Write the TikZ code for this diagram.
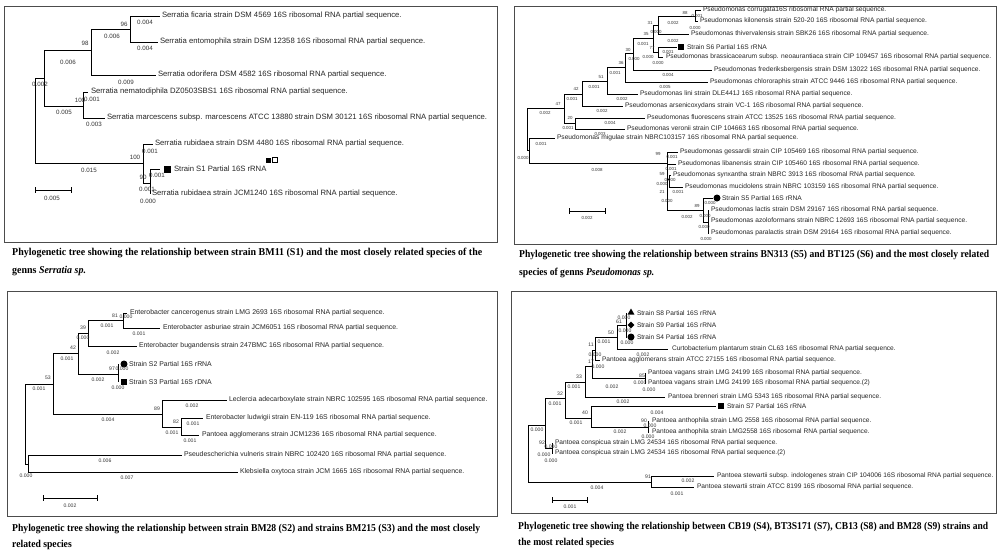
\documentclass[tikz,border=0pt]{standalone}
\usepackage{fontspec}
\setmainfont{Liberation Sans}
\newfontfamily\capfam{Liberation Serif}
\usepackage{graphicx}
\usetikzlibrary{shapes.geometric}
\newlength{\capw}
\newcounter{lbc}
\newcommand{\fs}[1]{\fontsize{#1}{#1}\selectfont}
\newcommand{\lb}[3]{\stepcounter{lbc}\node[blabel] (lab\arabic{lbc}) at (#1,#2) {#3};}
\newcommand{\kids}[2]{\foreach \k in {#2}{\draw[branch] (#1) |- (\k);}}
\newcommand{\captxt}[1]{\capfam\bfseries\fontsize{10.5}{12}\selectfont #1}
\newcommand{\capscaled}[3]{\settowidth{\capw}{\captxt{#2}}\pgfmathsetmacro{\capf}{#1/\capw}\scalebox{\capf}[1]{\captxt{#3}}}
\newcommand{\mkcap}[7]{%
  \node[anchor=base west,inner sep=0] (#1a) at (#2,#3) {\capscaled{#5}{#6}{#6}};
  \node[anchor=base west,inner sep=0] (#1b) at (#2,#4) {\capscaled{#5}{#6}{#7}};
}
\newcommand{\sbar}[4]{% name x1 x2 y
  \coordinate (#1l) at (#2,#4); \coordinate (#1r) at (#3,#4);
  \draw[branch] (#1l) -- (#1r);
  \draw[branch] ([yshift=3pt]#1l) -- ([yshift=-3pt]#1l);
  \draw[branch] ([yshift=3pt]#1r) -- ([yshift=-3pt]#1r);
}
\tikzset{
  branch/.style={draw=black,line width=0.85pt},
  boxframe/.style={draw=black!70,line width=0.9pt},
  leaftext/.style={anchor=west,inner sep=0pt,outer sep=0pt,text=black!85},
  blabel/.style={inner sep=0pt,text=black!80},
  msq/.style={fill=black,draw=none,rectangle,minimum size=6.5pt,inner sep=0pt},
  mdot/.style={fill=black,draw=none,circle,minimum size=7pt,inner sep=0pt},
  mtri/.style={fill=black,draw=none,regular polygon,regular polygon sides=3,minimum size=8pt,inner sep=0pt},
  mdia/.style={fill=black,draw=none,diamond,minimum size=7pt,inner sep=0pt},
}
\begin{document}
\begin{tikzpicture}[x=1pt,y=-1pt]
\fill[white] (0,0) rectangle (1000,550);
\useasboundingbox (0,0) rectangle (1000,550);

% ================= frames =================
\draw[boxframe] (4,6) rectangle (497,242);
\draw[boxframe] (514,6) rectangle (996,244);
\draw[boxframe] (7,291) rectangle (497,516);
\draw[boxframe] (511,291) rectangle (996,513);

% ================= TL : Serratia =================
\begin{scope}[leaftext/.append style={font=\fs{7.7}},blabel/.append style={font=\fs{6.2}}]
\coordinate (tlR) at (35,120);
\coordinate (tlA) at (44,78);
\coordinate (tlB) at (91,50);
\coordinate (tlC) at (130,29);
\coordinate (tlD) at (83,106);
\coordinate (tlE) at (143,163);
\coordinate (tlF) at (150,183);
\coordinate (tl1) at (160,16);
\coordinate (tl2) at (158,42);
\coordinate (tl3) at (156,75);
\coordinate (tl4) at (88,92);
\coordinate (tl5) at (105,118);
\coordinate (tl6) at (153,144);
\coordinate (tl7) at (160,169);
\coordinate (tl8) at (150,194);
\kids{tlR}{tlA,tlE}
\kids{tlA}{tlB,tlD}
\kids{tlB}{tlC,tl3}
\kids{tlC}{tl1,tl2}
\kids{tlD}{tl4,tl5}
\kids{tlE}{tl6,tlF}
\kids{tlF}{tl7,tl8}
\node[leaftext] (tl1t) at (162,16) {Serratia ficaria strain DSM 4569 16S ribosomal RNA partial sequence.};
\node[leaftext] (tl2t) at (160,42) {Serratia entomophila strain DSM 12358 16S ribosomal RNA partial sequence.};
\node[leaftext] (tl3t) at (158,75) {Serratia odorifera DSM 4582 16S ribosomal RNA partial sequence.};
\node[leaftext] (tl4t) at (91,92) {Serratia nematodiphila DZ0503SBS1 16S ribosomal RNA partial sequence.};
\node[leaftext] (tl5t) at (107,118) {Serratia marcescens subsp. marcescens ATCC 13880 strain DSM 30121 16S ribosomal RNA partial sequence.};
\node[leaftext] (tl6t) at (155,144) {Serratia rubidaea strain DSM 4480 16S ribosomal RNA partial sequence.};
\node[msq,minimum size=7pt] (tl7m) at (167,169) {};
\node[leaftext] (tl7t) at (174,169) {Strain S1 Partial 16S rRNA};
\node[leaftext] (tl8t) at (152,194) {Serratia rubidaea strain JCM1240 16S ribosomal RNA partial sequence.};
\node[msq,minimum size=5pt] (tlq1) at (268,160) {};
\node[draw=black,line width=0.6pt,rectangle,minimum size=4.5pt,inner sep=0pt] (tlq2) at (275,160) {};
\lb{124}{24}{96}
\lb{112}{36}{0.006}
\lb{145}{22}{0.004}
\lb{145}{48}{0.004}
\lb{85}{43}{98}
\lb{68}{62}{0.006}
\lb{126}{82}{0.009}
\lb{40}{84}{0.002}
\lb{80}{100}{100}
\lb{92}{99}{0.001}
\lb{64}{112}{0.005}
\lb{94}{124}{0.003}
\lb{89}{170}{0.015}
\lb{135}{157}{100}
\lb{150}{151}{0.001}
\lb{143}{177}{90}
\lb{157}{175}{0.001}
\lb{147}{189}{0.001}
\lb{148}{201}{0.000}
\sbar{tlsb}{35}{71}{190}
\lb{52}{198}{0.005}
\end{scope}

% ================= TR : Pseudomonas =================
\begin{scope}[leaftext/.append style={font=\fs{6.65}},blabel/.append style={font=\fs{4.4}}]
\coordinate (trR) at (527,129);
\coordinate (trN47) at (564,108);
\coordinate (trN42) at (582,94);
\coordinate (trN51) at (607,81);
\coordinate (trN36) at (625,67);
\coordinate (trN30) at (633,53);
\coordinate (trN35) at (653,38);
\coordinate (trN31) at (658,25);
\coordinate (trN88) at (695,16);
\coordinate (trN77) at (658,52);
\coordinate (trN20) at (575,123.5);
\coordinate (trX) at (529,150.5);
\coordinate (trG) at (667,163);
\coordinate (trN59) at (669,179);
\coordinate (trN89) at (703,210);
\coordinate (trNL) at (708,222);
\coordinate (tr1) at (701,10);
\coordinate (tr2) at (698,21);
\coordinate (tr3) at (689,34);
\coordinate (tr4) at (677,47);
\coordinate (tr5) at (663,57);
\coordinate (tr6) at (712,70);
\coordinate (tr7) at (708,82);
\coordinate (tr8) at (638,94);
\coordinate (tr9) at (623,106);
\coordinate (tr10) at (645,118);
\coordinate (tr11) at (625,129);
\coordinate (tr12) at (555,138);
\coordinate (tr13) at (678,152);
\coordinate (tr14) at (676,164);
\coordinate (tr15) at (671,175);
\coordinate (tr16) at (683,187);
\coordinate (tr17) at (713,198);
\coordinate (tr18) at (709,210);
\coordinate (tr19) at (709,221);
\coordinate (tr20) at (709,233);
\kids{trR}{trN47,trX}
\kids{trN47}{trN42,trN20}
\kids{trN42}{trN51,tr9}
\kids{trN51}{trN36,tr8}
\kids{trN36}{trN30,tr7}
\kids{trN30}{trN35,tr6}
\kids{trN35}{trN31,trN77}
\kids{trN31}{trN88,tr3}
\kids{trN88}{tr1,tr2}
\kids{trN77}{tr4,tr5}
\kids{trN20}{tr10,tr11}
\kids{trX}{tr12,trG}
\kids{trG}{tr13,tr14,trN59,trN89}
\kids{trN59}{tr15,tr16}
\kids{trN89}{tr17,trNL}
\kids{trNL}{tr18,tr19,tr20}
\node[leaftext] (tr1t) at (703,10) {Pseudomonas corrugata16S ribosomal RNA partial sequence.};
\node[leaftext] (tr2t) at (700,21) {Pseudomonas kilonensis strain 520-20 16S ribosomal RNA partial sequence.};
\node[leaftext] (tr3t) at (691,34) {Pseudomonas thivervalensis strain SBK26 16S ribosomal RNA partial sequence.};
\node[msq,minimum size=6pt] (tr4m) at (681,47) {};
\node[leaftext] (tr4t) at (687,47) {Strain S6 Partial 16S rRNA};
\node[leaftext] (tr5t) at (666,57) {Pseudomonas brassicacearum subsp. neoaurantiaca strain CIP 109457 16S ribosomal RNA partial sequence.};
\node[leaftext] (tr6t) at (714,70) {Pseudomonas frederiksbergensis strain DSM 13022 16S ribosomal RNA partial sequence.};
\node[leaftext] (tr7t) at (710,82) {Pseudomonas chlororaphis strain ATCC 9446 16S ribosomal RNA partial sequence.};
\node[leaftext] (tr8t) at (640,94) {Pseudomonas lini strain DLE441J 16S ribosomal RNA partial sequence.};
\node[leaftext] (tr9t) at (625,106) {Pseudomonas arsenicoxydans strain VC-1 16S ribosomal RNA partial sequence.};
\node[leaftext] (tr10t) at (647,118) {Pseudomonas fluorescens strain ATCC 13525 16S ribosomal RNA partial sequence.};
\node[leaftext] (tr11t) at (627,129) {Pseudomonas veronii strain CIP 104663 16S ribosomal RNA partial sequence.};
\node[leaftext] (tr12t) at (557,138) {Pseudomonas migulae strain NBRC103157 16S ribosomal RNA partial sequence.};
\node[leaftext] (tr13t) at (680,152) {Pseudomonas gessardii strain CIP 105469 16S ribosomal RNA partial sequence.};
\node[leaftext] (tr14t) at (678,164) {Pseudomonas libanensis strain CIP 105460 16S ribosomal RNA partial sequence.};
\node[leaftext] (tr15t) at (673,175) {Pseudomonas synxantha strain NBRC 3913 16S ribosomal RNA partial sequence.};
\node[leaftext] (tr16t) at (685,187) {Pseudomonas mucidolens strain NBRC 103159 16S ribosomal RNA partial sequence.};
\node[mdot] (tr17m) at (717,198) {};
\node[leaftext] (tr17t) at (722,198) {Strain S5 Partial 16S rRNA};
\node[leaftext] (tr18t) at (711,210) {Pseudomonas lactis strain DSM 29167 16S ribosomal RNA partial sequence.};
\node[leaftext] (tr19t) at (711,221) {Pseudomonas azoloformans strain NBRC 12693 16S ribosomal RNA partial sequence.};
\node[leaftext] (tr20t) at (711,233) {Pseudomonas paralactis strain DSM 29164 16S ribosomal RNA partial sequence.};
\lb{685}{13}{88}
\lb{697}{16}{0.001}
\lb{673}{23}{0.002}
\lb{695}{28}{0.000}
\lb{650}{23}{31}
\lb{656}{32}{0.000}
\lb{646}{34}{35}
\lb{643}{44}{0.001}
\lb{673}{41}{0.002}
\lb{652}{48}{77}
\lb{668}{52}{0.001}
\lb{648}{57}{0.000}
\lb{658}{63}{0.000}
\lb{628}{50}{30}
\lb{634}{59}{0.000}
\lb{621}{63}{36}
\lb{615}{73}{0.001}
\lb{668}{75}{0.004}
\lb{665}{87}{0.005}
\lb{601}{77}{51}
\lb{594}{87}{0.001}
\lb{622}{99}{0.002}
\lb{576}{89}{42}
\lb{572}{99}{0.001}
\lb{602}{111}{0.002}
\lb{558}{104}{47}
\lb{545}{113}{0.002}
\lb{570}{118}{20}
\lb{568}{128}{0.001}
\lb{610}{123}{0.004}
\lb{600}{134}{0.003}
\lb{541}{144}{0.001}
\lb{523}{158}{0.000}
\lb{597}{170}{0.008}
\lb{658}{154}{99}
\lb{672}{157}{0.001}
\lb{671}{169}{0.001}
\lb{662}{174}{59}
\lb{670}{180}{0.000}
\lb{662}{184}{0.000}
\lb{678}{192}{0.001}
\lb{662}{192}{21}
\lb{667}{201}{0.000}
\lb{697}{206}{89}
\lb{710}{203}{0.000}
\lb{687}{217}{0.002}
\lb{705}{216}{0.000}
\lb{704}{227}{0.000}
\lb{706}{239}{0.000}
\sbar{trsb}{569}{605}{211}
\lb{587}{218}{0.002}
\end{scope}

% ================= BL : Enterobacter =================
\begin{scope}[leaftext/.append style={font=\fs{6.9}},blabel/.append style={font=\fs{5.1}}]
\coordinate (blR) at (25,424);
\coordinate (blN53) at (53,384);
\coordinate (blN42) at (78,353);
\coordinate (blN39) at (88,333);
\coordinate (blN81) at (123,320);
\coordinate (blN97) at (118,374);
\coordinate (blN89) at (162,414);
\coordinate (blN82) at (181,427);
\coordinate (blN0) at (28,464);
\coordinate (bl1) at (127,313);
\coordinate (bl2) at (160,328);
\coordinate (bl3) at (137,346);
\coordinate (bl4) at (118,364);
\coordinate (bl5) at (118,382);
\coordinate (bl6) at (227,400);
\coordinate (bl7) at (203,418);
\coordinate (bl8) at (199,435);
\coordinate (bl9) at (182,455);
\coordinate (bl10) at (238,472);
\kids{blR}{blN53,blN0}
\kids{blN53}{blN42,blN89}
\kids{blN42}{blN39,blN97}
\kids{blN39}{blN81,bl3}
\kids{blN81}{bl1,bl2}
\kids{blN97}{bl4,bl5}
\kids{blN89}{bl6,blN82}
\kids{blN82}{bl7,bl8}
\kids{blN0}{bl9,bl10}
\node[leaftext] (bl1t) at (130,313) {Enterobacter cancerogenus strain LMG 2693 16S ribosomal RNA partial sequence.};
\node[leaftext] (bl2t) at (163,328) {Enterobacter asburiae strain JCM6051 16S ribosomal RNA partial sequence.};
\node[leaftext] (bl3t) at (139,346) {Enterobacter bugandensis strain 247BMC 16S ribosomal RNA partial sequence.};
\node[mdot] (bl4m) at (124,364) {};
\node[leaftext] (bl4t) at (129,364) {Strain S2 Partial 16S rRNA};
\node[msq,minimum size=6pt] (bl5m) at (124,382) {};
\node[leaftext] (bl5t) at (129,382) {Strain S3 Partial 16S rDNA};
\node[leaftext] (bl6t) at (229,400) {Leclercia adecarboxylate strain NBRC 102595 16S ribosomal RNA partial sequence.};
\node[leaftext] (bl7t) at (206,418) {Enterobacter ludwigii strain EN-119 16S ribosomal RNA partial sequence.};
\node[leaftext] (bl8t) at (202,435) {Pantoea agglomerans strain JCM1236 16S ribosomal RNA partial sequence.};
\node[leaftext] (bl9t) at (184,455) {Pseudescherichia vulneris strain NBRC 102420 16S ribosomal RNA partial sequence.};
\node[leaftext] (bl10t) at (240,472) {Klebsiella oxytoca strain JCM 1665 16S ribosomal RNA partial sequence.};
\lb{115}{316}{81}
\lb{126}{317}{0.000}
\lb{107}{326}{0.001}
\lb{139}{334}{0.001}
\lb{83}{328}{39}
\lb{83}{338}{0.000}
\lb{113}{353}{0.002}
\lb{73}{348}{42}
\lb{67}{359}{0.001}
\lb{112}{369}{97}
\lb{122}{369}{0.000}
\lb{98}{380}{0.002}
\lb{118}{388}{0.000}
\lb{48}{378}{53}
\lb{39}{389}{0.001}
\lb{108}{420}{0.004}
\lb{157}{409}{89}
\lb{192}{406}{0.002}
\lb{176}{422}{82}
\lb{193}{424}{0.001}
\lb{172}{433}{0.001}
\lb{190}{441}{0.001}
\lb{105}{461}{0.006}
\lb{26}{476}{0.000}
\lb{127}{478}{0.007}
\sbar{blsb}{43}{97}{498}
\lb{70}{506}{0.002}
\end{scope}

% ================= BR : Pantoea =================
\begin{scope}[leaftext/.append style={font=\fs{6.6}},blabel/.append style={font=\fs{5.1}}]
\coordinate (brR) at (528,453);
\coordinate (brN545) at (545,425);
\coordinate (brN32) at (565,398);
\coordinate (brN33) at (585,382);
\coordinate (brN17) at (592,366);
\coordinate (brN11) at (595,350);
\coordinate (brN50) at (617,337);
\coordinate (brN61) at (626,325);
\coordinate (brNv) at (645,378);
\coordinate (brN40) at (591,418);
\coordinate (brN90) at (648,427);
\coordinate (brN92) at (552,448);
\coordinate (brN91) at (651,482);
\coordinate (br1) at (627,313);
\coordinate (br2) at (627,325);
\coordinate (br3) at (627,337);
\coordinate (br4) at (668,349);
\coordinate (br5) at (600,360);
\coordinate (br6) at (646,373);
\coordinate (br7) at (646,383);
\coordinate (br8) at (665,397);
\coordinate (br9) at (716,406);
\coordinate (br10) at (649,421);
\coordinate (br11) at (649,432);
\coordinate (br12) at (553,443);
\coordinate (br13) at (553,453);
\coordinate (br14) at (714,476);
\coordinate (br15) at (694,487);
\kids{brR}{brN545,brN91}
\kids{brN545}{brN32,brN92}
\kids{brN32}{brN33,brN40}
\kids{brN33}{brN17,br8}
\kids{brN17}{brN11,brNv}
\kids{brN11}{brN50,br5}
\kids{brN50}{brN61,br4}
\kids{brN61}{br1,br2,br3}
\kids{brNv}{br6,br7}
\kids{brN40}{br9,brN90}
\kids{brN90}{br10,br11}
\kids{brN92}{br12,br13}
\kids{brN91}{br14,br15}
\node[mtri] (br1m) at (631,312.5) {};
\node[leaftext] (br1t) at (637,313) {Strain S8 Partial 16S rRNA};
\node[mdia] (br2m) at (631,325) {};
\node[leaftext] (br2t) at (637,325) {Strain S9 Partial 16S rRNA};
\node[mdot] (br3m) at (631,337) {};
\node[leaftext] (br3t) at (637,337) {Strain S4 Partial 16S rRNA};
\node[leaftext] (br4t) at (672,349) {Curtobacterium plantarum strain CL63 16S ribosomal RNA partial sequence.};
\node[leaftext] (br5t) at (602,360) {Pantoea agglomerans strain ATCC 27155 16S ribosomal RNA partial sequence.};
\node[leaftext] (br6t) at (648,373) {Pantoea vagans strain LMG 24199 16S ribosomal RNA partial sequence.};
\node[leaftext] (br7t) at (648,383) {Pantoea vagans strain LMG 24199 16S ribosomal RNA partial sequence.(2)};
\node[leaftext] (br8t) at (668,397) {Pantoea brenneri strain LMG 5343 16S ribosomal RNA partial sequence.};
\node[msq,minimum size=6pt] (br9m) at (721,406) {};
\node[leaftext] (br9t) at (727,406) {Strain S7 Partial 16S rRNA};
\node[leaftext] (br10t) at (652,421) {Pantoea anthophila strain LMG 2558 16S ribosomal RNA partial sequence.};
\node[leaftext] (br11t) at (652,432) {Pantoea anthophila strain LMG2558 16S ribosomal RNA partial sequence.};
\node[leaftext] (br12t) at (555,443) {Pantoea conspicua strain LMG 24534 16S ribosomal RNA partial sequence.};
\node[leaftext] (br13t) at (555,453) {Pantoea conspicua strain LMG 24534 16S ribosomal RNA partial sequence.(2)};
\node[leaftext] (br14t) at (717,476) {Pantoea stewartii subsp. indologenes strain CIP 104006 16S ribosomal RNA partial sequence.};
\node[leaftext] (br15t) at (697,487) {Pantoea stewartii strain ATCC 8199 16S ribosomal RNA partial sequence.};
\lb{624}{318}{0.000}
\lb{619}{322}{61}
\lb{625}{331}{0.000}
\lb{611}{333}{50}
\lb{604}{342}{0.001}
\lb{627}{343}{0.000}
\lb{643}{355}{0.002}
\lb{591}{345}{11}
\lb{595}{355}{0.000}
\lb{591}{362}{17}
\lb{598}{367}{0.000}
\lb{642}{375.5}{85}
\lb{640}{382.5}{0.000}
\lb{649}{390}{0.000}
\lb{612}{387}{0.002}
\lb{579}{377}{33}
\lb{574}{387}{0.001}
\lb{623}{402}{0.002}
\lb{560}{394}{32}
\lb{555}{404}{0.001}
\lb{657}{413}{0.004}
\lb{585}{413}{40}
\lb{576}{423}{0.001}
\lb{644}{421}{90}
\lb{650}{426}{0.000}
\lb{648}{437}{0.000}
\lb{620}{432}{0.002}
\lb{537}{430}{0.000}
\lb{542}{443}{92}
\lb{551}{447}{0.000}
\lb{544}{455}{0.000}
\lb{551}{461}{0.000}
\lb{648}{477}{91}
\lb{688}{481}{0.002}
\lb{597}{488}{0.004}
\lb{677}{494}{0.001}
\sbar{brsb}{552}{587}{500}
\lb{570}{507}{0.001}
\end{scope}

% ================= captions =================
\mkcap{captl}{12}{255.5}{273.5}{470}{Phylogenetic tree showing the relationship between strain BM11 (S1) and the most closely related species of the}{genns \textit{Serratia sp.}}
\mkcap{captr}{519}{257.5}{275.5}{470}{Phylogenetic tree showing the relationship between strains BN313 (S5) and BT125 (S6) and the most closely related}{species of genns \textit{Pseudomonas sp.}}
\mkcap{capbl}{12}{531.5}{547.5}{468}{Phylogenetic tree showing the relationship between strain BM28 (S2) and strains BM215 (S3) and the most closely}{related species}
\mkcap{capbr}{518}{529.5}{545.5}{470}{Phylogenetic tree showing the relationship between CB19 (S4), BT3S171 (S7), CB13 (S8) and BM28 (S9) strains and}{the most related species}
\end{tikzpicture}
\end{document}
